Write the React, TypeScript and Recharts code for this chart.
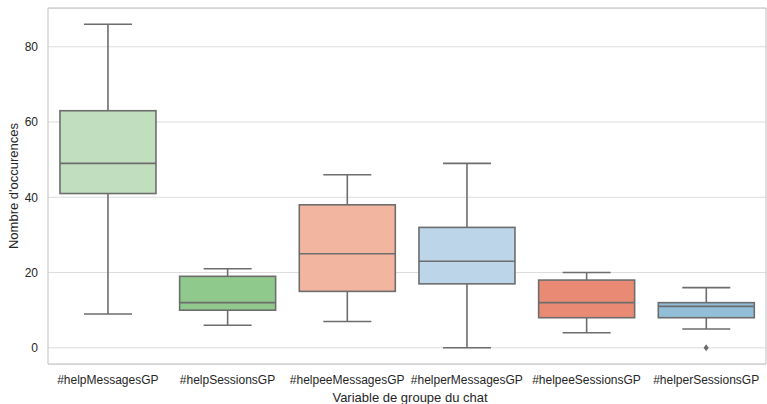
import React from 'react';
import { ComposedChart, Bar, Scatter, XAxis, YAxis, CartesianGrid } from 'recharts';

const categories = ['#helpMessagesGP', '#helpSessionsGP', '#helpeeMessagesGP', '#helperMessagesGP', '#helpeeSessionsGP', '#helperSessionsGP'];
const whiskerLow = [9, 6, 7, 0, 4, 5];
const q1 = [41, 10, 15, 17, 8, 8];
const median = [49, 12, 25, 23, 12, 11];
const q3 = [63, 19, 38, 32, 18, 12];
const whiskerHigh = [86, 21, 46, 49, 20, 16];
const outliers: (number | null)[] = [null, null, null, null, null, 0];
const colors = ['#c1dfbe', '#90c98c', '#f2b6a0', '#bdd5e8', '#e98b74', '#92bed7'];
const yTicks = [0, 20, 40, 60, 80];

const data = categories.map((name, i) => ({
  name,
  range: [whiskerLow[i], whiskerHigh[i]],
  low: whiskerLow[i],
  q1: q1[i],
  median: median[i],
  q3: q3[i],
  high: whiskerHigh[i],
  outlier: outliers[i],
}));

const EDGE = '#6d6d6d';
const SPINE = '#cccccc';
const FONT = '"Liberation Sans", Arial, sans-serif';

function BoxShape(props: any) {
  const { x, y, width, height, payload, index } = props;
  const top = Math.min(y, y + height);
  const bottom = Math.max(y, y + height);
  const span = payload.high - payload.low;
  const pix = (v: number) => bottom - ((v - payload.low) / span) * (bottom - top);
  const cx = x + width / 2;
  const capHalf = width / 4;
  const yq1 = pix(payload.q1);
  const yq3 = pix(payload.q3);
  const ym = pix(payload.median);
  return (
    <g>
      <line x1={cx} x2={cx} y1={top} y2={yq3} stroke={EDGE} strokeWidth={1.6} />
      <line x1={cx} x2={cx} y1={yq1} y2={bottom} stroke={EDGE} strokeWidth={1.6} />
      <line x1={cx - capHalf} x2={cx + capHalf} y1={top} y2={top} stroke={EDGE} strokeWidth={1.6} />
      <line x1={cx - capHalf} x2={cx + capHalf} y1={bottom} y2={bottom} stroke={EDGE} strokeWidth={1.6} />
      <rect x={x} y={yq3} width={width} height={yq1 - yq3} fill={colors[index]} stroke={EDGE} strokeWidth={1.6} />
      <line x1={x} x2={x + width} y1={ym} y2={ym} stroke={EDGE} strokeWidth={1.6} />
    </g>
  );
}

function Diamond(props: any) {
  const { cx, cy } = props;
  if (cx == null || cy == null) return null;
  return <path d={`M${cx},${cy - 3.5} L${cx + 2.6},${cy} L${cx},${cy + 3.5} L${cx - 2.6},${cy} Z`} fill={EDGE} />;
}

function Nothing() {
  return null;
}

function YLabel(props: any) {
  const { viewBox } = props;
  const cy = viewBox.y + viewBox.height / 2;
  return (
    <text x={13} y={cy} transform={`rotate(-90 13 ${cy})`} textAnchor="middle" dominantBaseline="central" fontSize={13} fontFamily={FONT} fill="#262626">
      Nombre d'occurences
    </text>
  );
}

function XLabel(props: any) {
  const { viewBox } = props;
  const cx = viewBox.x + viewBox.width / 2;
  return (
    <text x={cx + 3} y={397} textAnchor="middle" dominantBaseline="central" fontSize={13} fontFamily={FONT} fill="#262626">
      Variable de groupe du chat
    </text>
  );
}

export default function App() {
  return (
    <div style={{ position: 'absolute', left: 0, top: 0 }}>
      <ComposedChart width={767} height={404} data={data} margin={{ top: 7, right: 0, bottom: 0, left: 0 }} barCategoryGap="10%">
        <CartesianGrid horizontal vertical={false} stroke="#dcdcdc" strokeWidth={1} />
        <XAxis
          dataKey="name"
          type="category"
          height={40}
          tickLine={false}
          tickSize={0}
          tickMargin={11}
          axisLine={{ stroke: SPINE, strokeWidth: 1.25 }}
          tick={{ fontSize: 12, fontFamily: FONT, fill: '#262626' }}
          interval={0}
          label={<XLabel />}
        />
        <XAxis xAxisId="top" dataKey="name" orientation="top" height={1} tick={false} tickLine={false} axisLine={{ stroke: SPINE, strokeWidth: 1.25 }} />
        <YAxis
          domain={[-4.3, 90.3]}
          ticks={yTicks}
          width={48}
          tickLine={false}
          tickSize={0}
          tickMargin={10}
          axisLine={{ stroke: SPINE, strokeWidth: 1.25 }}
          tick={{ fontSize: 12, fontFamily: FONT, fill: '#262626' }}
          label={<YLabel />}
          allowDataOverflow
        />
        <YAxis yAxisId="right" orientation="right" width={1} domain={[-4.3, 90.3]} tick={false} tickLine={false} axisLine={{ stroke: SPINE, strokeWidth: 1.25 }} />
        <Bar dataKey="range" shape={<BoxShape />} isAnimationActive={false} />
        <Scatter dataKey="outlier" shape={<Diamond />} isAnimationActive={false} />
        <Scatter xAxisId="top" yAxisId="right" dataKey="outlier" shape={<Nothing />} isAnimationActive={false} legendType="none" />
      </ComposedChart>
    </div>
  );
}
